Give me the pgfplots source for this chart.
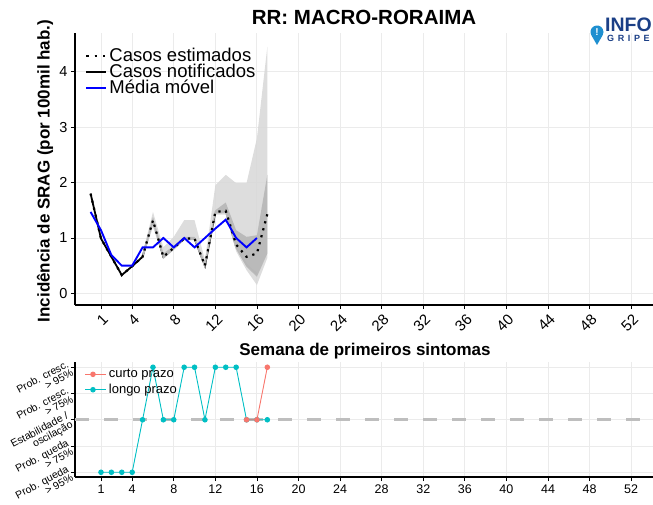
\documentclass[border=0pt]{standalone}
\usepackage{pgfplots}
\pgfplotsset{compat=1.18}
\usepackage{fontspec}
\setmainfont{Liberation Sans}
\definecolor{curto}{HTML}{F8766D}
\definecolor{longo}{HTML}{00BFC4}
\definecolor{gridc}{HTML}{EBEBEB}
\definecolor{bandlight}{HTML}{D9D9D9}
\definecolor{banddark}{HTML}{B5B5B5}
\definecolor{logoblue}{HTML}{1E8FD0}
\definecolor{logonavy}{HTML}{1B3F86}
\definecolor{dashc}{HTML}{BEBEBE}

\pgfplotstableread{
w est
0 1.80
1 0.99
2 0.66
3 0.33
4 0.49
5 0.66
6 1.32
7 0.66
8 0.82
9 0.99
10 0.99
11 0.50
12 1.47
13 1.49
14 0.88
15 0.66
16 0.72
17 1.43
}\estimated

\pgfplotstableread{
w notif
0 1.80
1 0.99
2 0.66
3 0.33
4 0.49
5 0.66
6 1.32
7 0.66
8 0.82
9 0.99
10 0.99
11 0.50
12 1.47
13 1.49
14 0.84
15 0.52
16 0.35
}\notified

\pgfplotstableread{
w mm
0 1.47
1 1.14
2 0.69
3 0.50
4 0.50
5 0.83
6 0.83
7 1.00
8 0.83
9 1.00
10 0.83
11 1.00
12 1.17
13 1.33
14 1.00
15 0.83
16 1.00
}\movavg

\pgfplotstableread{
w lvl
1 -2
2 -2
3 -2
4 -2
5 0
6 2
7 0
8 0
9 2
10 2
11 0
12 2
13 2
14 2
15 0
16 0
17 0
}\longo

\pgfplotstableread{
w lvl
15 0
16 0
17 2
}\curto

\begin{document}
\begin{tikzpicture}[x=1pt,y=1pt]
\useasboundingbox (0,0) rectangle (653,504);

% ---------------- top panel ----------------
\begin{axis}[
  at={(75pt,199pt)}, anchor=south west,
  width=578pt, height=272pt, scale only axis,
  xmin=-1.5, xmax=54.1, ymin=-0.21, ymax=4.70,
  axis x line*=bottom, axis y line*=left,
  axis line style={-, black, line width=1.1pt},
  xtick={1,4,8,12,16,20,24,28,32,36,40,44,48,52},
  ytick={0,1,2,3,4},
  grid=major, major grid style={gridc, line width=0.9pt},
  tick style={black, line width=0.8pt}, tick align=outside, major tick length=4pt,
  xticklabel style={rotate=45, anchor=north east, font=\fontsize{15}{15}\selectfont, inner sep=1pt, xshift=-1pt, yshift=-2pt},
  yticklabel style={font=\fontsize{14.5}{14.5}\selectfont},
  /pgf/number format/assume math mode=true,
  legend style={at={(0.017,0.952)}, anchor=north west, draw=none, fill=none,
    font=\fontsize{18.5}{18.5}\selectfont, inner sep=0pt, row sep=-3pt},
  legend cell align=left,
  legend image code/.code={\draw[#1] (0pt,0pt) -- (15pt,0pt); \path (0pt,0pt) -- (20pt,0pt);},
]
\addlegendimage{black, line width=2.4pt, dash pattern=on 2.4pt off 6pt}
\addlegendentry{Casos estimados}
\addlegendimage{black, line width=2pt}
\addlegendentry{Casos notificados}
\addlegendimage{blue, line width=2pt}
\addlegendentry{Média móvel}

\addplot[black, line width=1.8pt, forget plot] table[x=w,y=notif] {\notified};

\addplot[fill=bandlight, draw=none, fill opacity=0.9, forget plot] coordinates {
(5,0.72)(6,1.47)(7,0.83)(8,1.02)(9,1.32)(10,1.32)(11,0.60)(12,1.95)(13,2.14)(14,1.99)(15,1.99)(16,2.80)(17,4.45)
(17,0.64)(16,0.15)(15,0.42)(14,0.76)(13,1.42)(12,1.42)(11,0.45)(10,0.96)(9,0.96)(8,0.78)(7,0.63)(6,1.20)(5,0.62)
} -- cycle;
\addplot[fill=banddark, draw=none, fill opacity=0.85, forget plot] coordinates {
(5,0.69)(6,1.37)(7,0.72)(8,0.86)(9,1.02)(10,1.02)(11,0.55)(12,1.50)(13,1.64)(14,1.14)(15,1.02)(16,1.05)(17,2.14)
(17,0.72)(16,0.30)(15,0.48)(14,0.80)(13,1.45)(12,1.44)(11,0.46)(10,0.96)(9,0.96)(8,0.79)(7,0.62)(6,1.26)(5,0.63)
} -- cycle;

\addplot[black, line width=2.2pt, dash pattern=on 2.2pt off 5pt, forget plot] table[x=w,y=est] {\estimated};
\addplot[blue, line width=1.9pt, forget plot] table[x=w,y=mm] {\movavg};
\end{axis}

% ---------------- bottom panel ----------------
\begin{axis}[
  at={(75pt,27pt)}, anchor=south west,
  width=578pt, height=115pt, scale only axis,
  xmin=-1.5, xmax=54.1, ymin=-2.18, ymax=2.2,
  axis x line*=bottom, axis y line*=left,
  axis line style={-, black, line width=1.1pt},
  xtick={1,4,8,12,16,20,24,28,32,36,40,44,48,52},
  ytick={-2,-1,0,1,2},
  yticklabels={{Prob. queda\\> 95\%},{Prob. queda\\> 75\%},{Estabilidade /\\oscilação},{Prob. cresc.\\> 75\%},{Prob. cresc.\\> 95\%}},
  grid=major, major grid style={gridc, line width=0.9pt},
  tick style={black, line width=0.8pt}, tick align=outside, major tick length=4pt,
  xticklabel style={font=\fontsize{12.5}{12.5}\selectfont},
  yticklabel style={rotate=28, anchor=east, align=right, font=\fontsize{10.5}{10}\selectfont, inner sep=1pt},
  /pgf/number format/assume math mode=true,
  legend style={at={(0.017,0.955)}, anchor=north west, draw=none, fill=none,
    font=\fontsize{13}{13}\selectfont, inner sep=0pt, row sep=1pt},
  legend cell align=left,
  legend image code/.code={\draw[mark repeat=2, mark phase=2, #1] plot coordinates {(0pt,0pt)(7.5pt,0pt)(15pt,0pt)}; \path (0pt,0pt) -- (21pt,0pt);},
]
\addplot[dashc, line width=3pt, dash pattern=on 14pt off 15pt, forget plot] coordinates {(-1.5,0) (54.1,0)};
\addlegendimage{curto, line width=0.9pt, mark=*, mark size=2.3pt}
\addlegendentry{curto prazo}
\addlegendimage{longo, line width=0.9pt, mark=*, mark size=2.3pt}
\addlegendentry{longo prazo}
\addplot[longo, line width=0.9pt, mark=*, mark size=2.3pt, forget plot] table[x=w,y=lvl] {\longo};
\addplot[curto, line width=0.9pt, mark=*, mark size=2.3pt, forget plot] table[x=w,y=lvl] {\curto};
\end{axis}

% ---------------- titles ----------------
\node[anchor=base, font=\bfseries\fontsize{20.5}{20.5}\selectfont] at (364,479) {RR: MACRO-RORAIMA};
\node[anchor=base, font=\bfseries\fontsize{17}{17}\selectfont] at (365,149) {Semana de primeiros sintomas};
\node[rotate=90, font=\bfseries\fontsize{17}{17}\selectfont] at (45,333) {Incidência de SRAG (por 100mil hab.)};

% ---------------- logo ----------------
\fill[logoblue] (597,459) -- (591.37,468.75) arc[start angle=210, end angle=-30, radius=6.5] -- cycle;
\node[white, font=\bfseries\fontsize{10}{10}\selectfont, inner sep=0pt] at (597,472) {!};
\node[anchor=base west, logonavy, font=\bfseries\fontsize{19.5}{19.5}\selectfont, inner sep=0pt] at (605,472) {INFO};
\node[anchor=base west, logonavy, font=\bfseries\fontsize{9}{9}\selectfont\addfontfeatures{LetterSpace=40}, inner sep=0pt] at (607,462) {GRIPE};
\end{tikzpicture}
\end{document}
